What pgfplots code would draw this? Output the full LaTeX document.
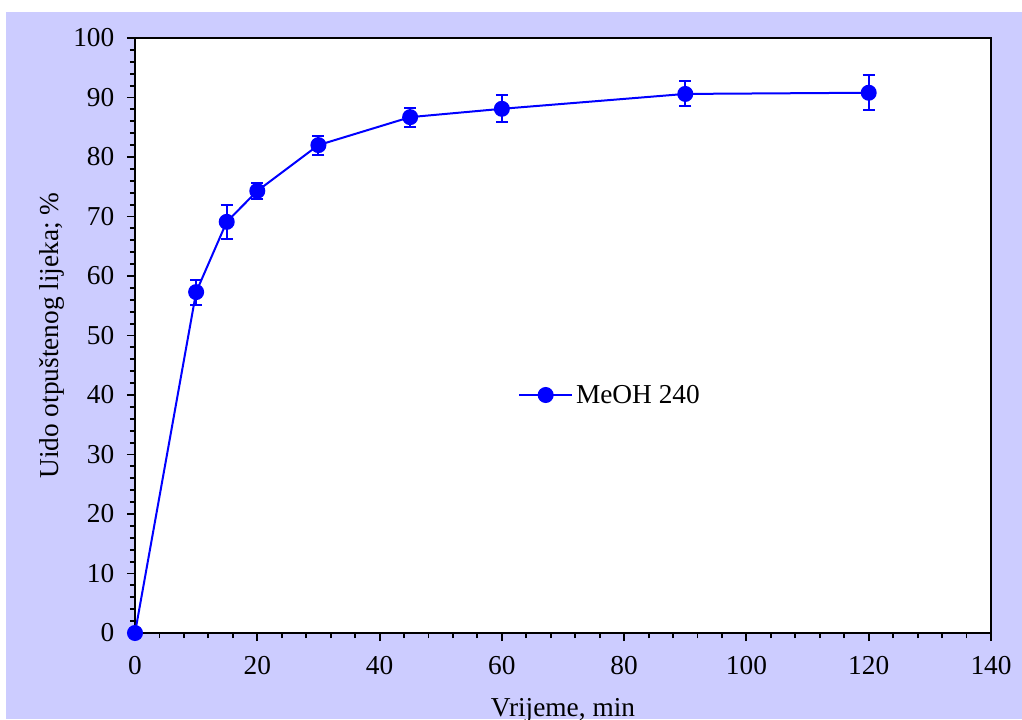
\documentclass[border=0pt]{standalone}
\usepackage{fontspec}
\setmainfont{Liberation Serif}
\usepackage{pgfplots}
\pgfplotsset{compat=1.18}
\definecolor{lavbg}{RGB}{204,204,255}
\definecolor{serblue}{RGB}{0,0,255}

\begin{document}
\begin{tikzpicture}
  % background panel (white frame strip at top and left)
  \fill[white] (-101.25pt,-64.5pt) rectangle (665.25pt,474.75pt);
  \fill[lavbg] (-96.75pt,-64.5pt) rectangle (665.25pt,465.75pt);
  \begin{axis}[
      at={(0pt,0pt)}, anchor=south west,
      scale only axis, width=642pt, height=446.25pt,
      xmin=0, xmax=140, ymin=0, ymax=100,
      xtick={0,20,...,140}, ytick={0,10,...,100},
      minor x tick num=4, minor y tick num=4,
      xtick pos=left, ytick pos=left,
      tick align=outside,
      major tick length=6pt, minor tick length=3.75pt,
      every tick/.style={black, line width=1.4pt},
      axis line style={black, line width=1.5pt},
      axis background/.style={fill=white},
      clip=false,
      font=\fontsize{20.5}{24}\selectfont,
      /pgf/number format/assume math mode=true,
      xticklabel style={yshift=-8pt},
      yticklabel style={xshift=-6pt},
      xlabel={Vrijeme, min},
      ylabel={Uido otpuštenog lijeka; \%},
      xlabel style={at={(axis description cs:0.5,-0.1395)}, anchor=base},
      ylabel style={at={(axis description cs:-0.097,0.5)}, anchor=center},
      legend style={at={(axis cs:62.6,40)}, anchor=west, draw=none, fill=none,
        font=\fontsize{20.5}{24}\selectfont, inner sep=0pt},
      legend image code/.code={
        \draw[mark repeat=2, mark phase=2, #1] plot coordinates {(0pt,0pt) (20pt,0pt) (40pt,0pt)};
      },
    ]
    \addplot[serblue, line width=1.5pt, mark=*, mark size=5.25pt,
      mark options={fill=serblue, draw=serblue},
      error bars/.cd, y dir=both, y explicit,
      error bar style={line width=1.5pt, serblue},
      error mark options={rotate=90, mark size=4.5pt, line width=1.5pt, serblue}]
      coordinates {
        (0,0) +- (0,0)
        (10,57.3) +- (0,2.1)
        (15,69.1) +- (0,2.9)
        (20,74.3) +- (0,1.4)
        (30,82.0) +- (0,1.6)
        (45,86.7) +- (0,1.6)
        (60,88.1) +- (0,2.3)
        (90,90.6) +- (0,2.1)
        (120,90.8) +- (0,2.9)
      };
    \addlegendentry{MeOH 240}
  \end{axis}
  \pgfresetboundingbox
  \path[use as bounding box] (-101.25pt,-64.5pt) rectangle (665.25pt,474.75pt);
\end{tikzpicture}
\end{document}
